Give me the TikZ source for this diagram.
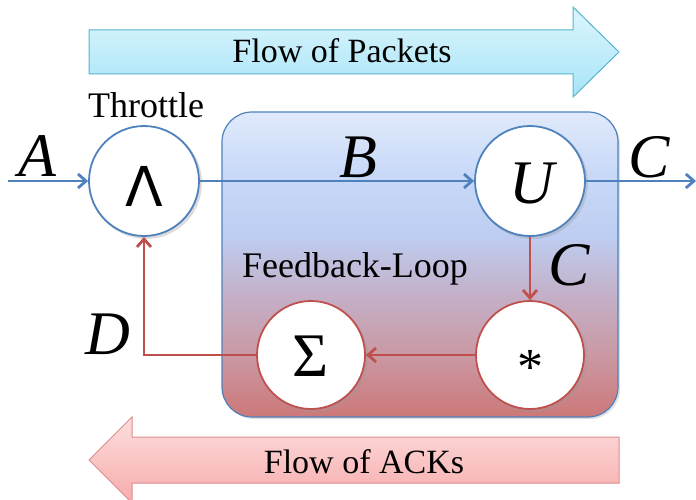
\documentclass[tikz,border=0pt]{standalone}
\usepackage{fontspec}
\setmainfont{Liberation Serif}
\newfontfamily\tnr{Liberation Serif}
\newfontfamily\sansf{DejaVu Sans}
\usetikzlibrary{arrows.meta}
\definecolor{obl}{HTML}{4F81BD}
\definecolor{ord}{HTML}{C0504D}
\definecolor{aqb}{HTML}{56B4CF}
\definecolor{aqt}{HTML}{DCF6FD}
\definecolor{aqbot}{HTML}{A8E4F7}
\definecolor{pkb}{HTML}{DE8C8C}
\definecolor{pkt}{HTML}{FDDEDE}
\definecolor{pkbot}{HTML}{F7ABAB}
\definecolor{fbA}{HTML}{CC7878}
\definecolor{fbB}{HTML}{CA98A3}
\definecolor{fbC}{HTML}{C4B0C8}
\definecolor{fbD}{HTML}{BDCEF2}
\definecolor{fbE}{HTML}{C8D9F8}
\definecolor{fbF}{HTML}{E0EAFB}
\definecolor{shd}{HTML}{9A9A9A}
\pgfdeclareverticalshading{fbshade}{100bp}{color(0bp)=(fbA); color(25bp)=(fbA); color(35bp)=(fbB); color(45bp)=(fbC); color(55bp)=(fbD); color(65bp)=(fbE); color(75bp)=(fbF); color(100bp)=(fbF)}
\tikzset{
  circ/.style={circle, minimum size=#1, inner sep=0pt, fill=white, line width=1.8pt},
  bcirc/.style={circ=110pt, draw=obl},
  rcirc/.style={circ=108pt, draw=ord},
  shadowc/.style={circle, minimum size=#1, inner sep=0pt, fill=shd, opacity=0.35},
  bigvar/.style={inner sep=0pt, font=\tnr\itshape\fontsize{62}{62}\selectfont},
  lbl/.style={inner sep=0pt, anchor=base, font=\tnr\fontsize{#1}{#1}\selectfont},
  barb/.style={-{Straight Barb[length=8pt,width=14pt]}},
  bline/.style={barb, draw=obl, line width=2.8pt},
  rline/.style={barb, draw=ord, line width=2.8pt},
}
\begin{document}
\begin{tikzpicture}[x=1pt,y=-1pt]
\useasboundingbox (0,0) rectangle (696,500);
% flow arrows
\path[shade, top color=aqt, bottom color=aqbot, draw=aqb, line width=1pt]
  (89,30) -- (573,30) -- (573,7) -- (619,52) -- (573,97) -- (573,74) -- (89,74) -- cycle;
\node[lbl=34] (fp) at (342,63) {Flow of Packets};
\path[shade, top color=pkt, bottom color=pkbot, draw=pkb, line width=1pt]
  (619,437) -- (132,437) -- (132,417) -- (89,460) -- (132,503) -- (132,483) -- (619,483) -- cycle;
\node[lbl=34] (fa) at (364,473) {Flow of ACKs};
% feedback box
\fill[shd, opacity=0.3, rounded corners=30pt] (224,114) rectangle (620,419);
\path[shading=fbshade, draw=obl, line width=1.2pt, rounded corners=30pt]
  (222,112) rectangle (618,417);
\node[lbl=36] (fl) at (355,277) {Feedback-Loop};
\node[lbl=36] (th) at (146,118) {Throttle};
% node shadows
\node[shadowc=112pt] (s1) at (146,183) {};
\node[shadowc=112pt] (s2) at (532,183) {};
\node[shadowc=110pt] (s3) at (313,357) {};
\node[shadowc=110pt] (s4) at (532,357) {};
% nodes
\node[bcirc] (thr) at (144,181) {};
\node[inner sep=0pt, font=\sansf\fontsize{55}{55}\selectfont] (lam) at (144,186) {Λ};
\node[bcirc] (U) at (530,181) {};
\node[bigvar] (uu) at (532,184) {U};
\node[rcirc] (sig) at (311,355) {};
\node[inner sep=0pt, font=\tnr\fontsize{62}{62}\selectfont] (ss) at (311,356) {Σ};
\node[rcirc] (star) at (530,355) {};
\node[inner sep=0pt, anchor=base, font=\tnr\fontsize{52}{52}\selectfont] (st) at (530,384) {*};
% labels
\node[bigvar] (lA) at (37,156) {A};
\node[bigvar] (lB) at (358,157) {B};
\node[bigvar] (lC1) at (649,157) {C};
\node[bigvar] (lC2) at (569,265) {C};
\node[bigvar] (lD) at (108,334) {D};
% connectors
\coordinate (in) at (8,181);
\coordinate (out) at (696,181);
\draw[bline] (in) -- (thr);
\draw[bline] (thr) -- (U);
\draw[bline] (U) -- (out);
\draw[rline] (U) -- (star);
\draw[rline] (star) -- (sig);
\draw[rline] (sig.west) -| (thr.south);
\end{tikzpicture}
\end{document}
